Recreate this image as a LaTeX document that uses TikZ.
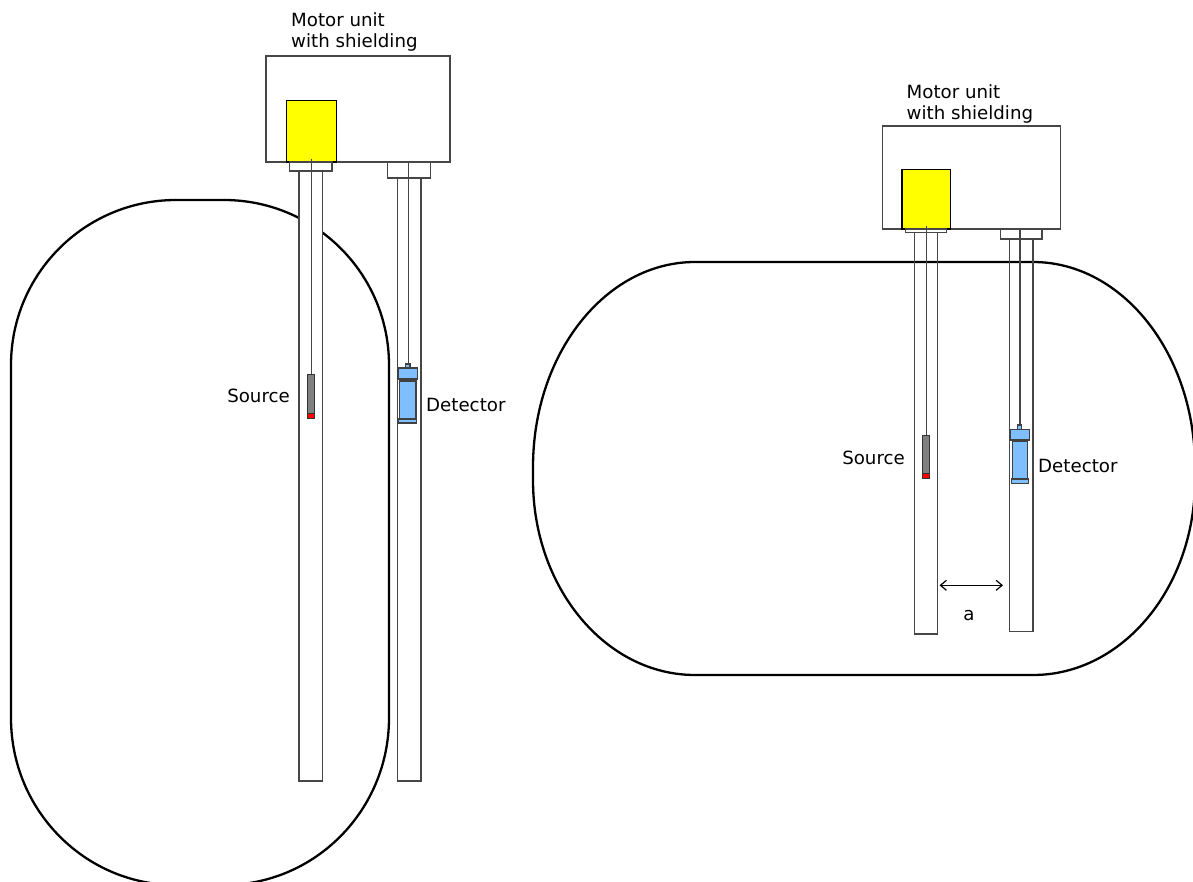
\documentclass[tikz,border=0pt]{standalone}
\usepackage{fontspec}
\setmainfont{DejaVu Sans}
\usetikzlibrary{arrows.meta}
\definecolor{detblue}{HTML}{80BFFF}
\definecolor{pureyellow}{RGB}{255,255,0}
\definecolor{purered}{RGB}{255,0,0}
\definecolor{darkline}{RGB}{70,70,70}
\definecolor{midgrey}{RGB}{128,128,128}
\tikzset{
  vessel/.style={draw=black,line width=2.3pt},
  thinbox/.style={draw=darkline,line width=1.3pt},
  tube/.style={draw=darkline,line width=1.3pt},
  wire/.style={draw=darkline,line width=1.2pt},
  shield/.style={draw=black,line width=1.2pt,fill=pureyellow},
  srcbody/.style={draw=black!80,line width=1pt,fill=midgrey},
  srctip/.style={draw=black!80,line width=1pt,fill=purered},
  det/.style={draw=black!75,line width=1.1pt,fill=detblue},
  label/.style={inner sep=0pt,font=\fontsize{18.2}{21}\selectfont,align=left},
  dim/.style={draw=black,line width=1.2pt,{Straight Barb[length=6pt,width=10pt]}-{Straight Barb[length=6pt,width=10pt]}}
}
\begin{document}
\begin{tikzpicture}[x=1pt,y=-1pt]
\useasboundingbox (0,0) rectangle (1193,882);
\clip (0,0) rectangle (1193,882);
\fill[white] (0,0) rectangle (1193,882);
% left vessel
\draw[vessel] (176,200) -- (224,200) arc[start angle=-90,end angle=0,x radius=165,y radius=165]
  -- (389,718) arc[start angle=0,end angle=90,x radius=165,y radius=167]
  -- (176,885) arc[start angle=90,end angle=180,x radius=165,y radius=167]
  -- (11,365) arc[start angle=180,end angle=270,x radius=165,y radius=165] -- cycle;
% left tubes
\path[tube,fill=white] (299,171) rectangle (322.7,781);
\path[tube] (397.3,178) rectangle (421,781);
% left box
\path[thinbox] (266,56) rectangle (450,162);
\path[shield] (286.7,100.7) rectangle (336.3,162);
\path[thinbox] (289.5,162) rectangle (332,171);
\path[thinbox] (387.7,162) rectangle (430.3,178);
\path[wire] (311.3,159) -- (311.3,374);
\path[wire] (408.3,162) -- (408.3,364);
% left source
\path[srcbody] (307.3,374) rectangle (314,413);
\path[srctip] (307.3,413) rectangle (314,418.7);
% left detector
\path[det] (405.3,364) rectangle (410,368);
\path[det] (399.3,381) rectangle (416,419);
\path[det] (398,368) rectangle (417.3,379);
\path[det] (398.6,419) rectangle (416.6,423);
% right vessel
\draw[vessel] (695,262) -- (1033,262) arc[start angle=-90,end angle=0,x radius=162,y radius=205]
  -- (1195,480) arc[start angle=0,end angle=90,x radius=162,y radius=195]
  -- (695,675) arc[start angle=90,end angle=180,x radius=162,y radius=195]
  -- (533,467) arc[start angle=180,end angle=270,x radius=162,y radius=205] -- cycle;
% right tubes
\path[tube] (914.3,232.5) rectangle (937.3,634);
\path[tube] (1009.7,239) rectangle (1033,631.7);
% right box
\path[thinbox] (882.7,126) rectangle (1060.7,229);
\path[shield] (902,169.3) rectangle (950.7,229);
\path[thinbox] (905.3,229) rectangle (946.7,232.5);
\path[thinbox] (1000.3,229) rectangle (1042,239);
\path[wire] (926.3,226) -- (926.3,435);
\path[wire] (1020,229) -- (1020,425);
% right source
\path[srcbody] (922.3,435) rectangle (929,473);
\path[srctip] (922.3,473) rectangle (929,478.3);
% right detector
\path[det] (1017.4,425) rectangle (1021.4,429.3);
\path[det] (1012.3,441.5) rectangle (1027.7,479);
\path[det] (1010.7,429.3) rectangle (1029.3,440);
\path[det] (1011.3,479) rectangle (1028.7,483.5);
% labels
\node[label,anchor=base west] (motorL) at (291,47.5) {Motor unit\\with shielding};
\node[label,anchor=base west] (motorR) at (906.5,120) {Motor unit\\with shielding};
\node[label,anchor=base east] (srcL) at (290,402) {Source};
\node[label,anchor=base west] (detL) at (426,411) {Detector};
\node[label,anchor=base east] (srcR) at (905,464) {Source};
\node[label,anchor=base west] (detR) at (1038,472) {Detector};
\node[label,anchor=base] (gap) at (969,620) {a};
\coordinate (gapA) at (939.5,585.3);
\coordinate (gapB) at (1003,585.3);
\draw[dim] (gapA) -- (gapB);
\end{tikzpicture}
\end{document}
